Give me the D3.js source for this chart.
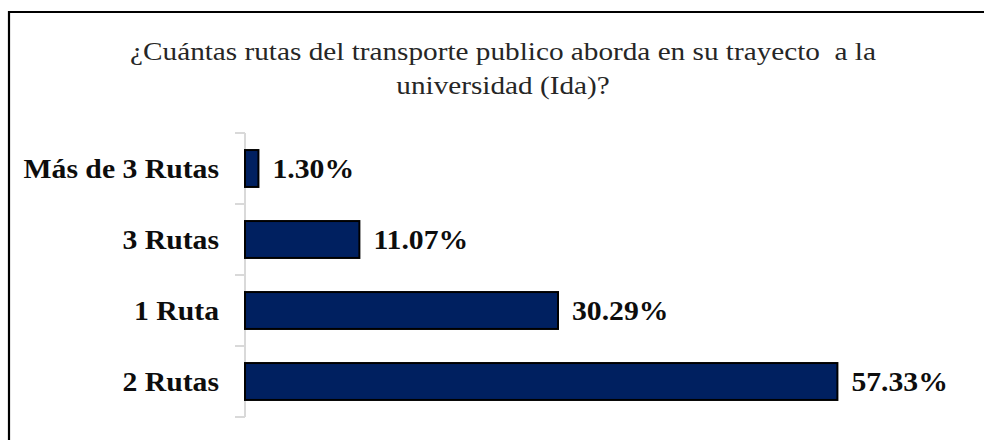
<!DOCTYPE html>
<html>
<head>
<meta charset="utf-8">
<script src="https://cdn.jsdelivr.net/npm/d3@7"></script>
<style>
  html, body { margin: 0; padding: 0; background: #fff; }
  svg { display: block; }
</style>
</head>
<body>
<svg id="chart"></svg>
<script>
// datos (de arriba hacia abajo)
const categories = ["Más de 3 Rutas", "3 Rutas", "1 Ruta", "2 Rutas"];
const values = [1.30, 11.07, 30.29, 57.33];
const titleLines = [
    "¿Cuántas rutas del transporte publico aborda en su trayecto\u00a0 a la",
    "universidad (Ida)?"
];

const width = 984;
const height = 440;
const stretch = 1.1;       // el texto original aparece algo ensanchado
const titleStretch = 1.17;

const svg = d3.select("#chart")
    .attr("width", width)
    .attr("height", height);

// marco del gráfico
svg.append("path")
    .attr("d", `M9,${height + 5} V12 H${width + 5}`)
    .attr("fill", "none")
    .attr("stroke", "#000")
    .attr("stroke-width", 2.2);

// título
svg.append("g")
    .attr("transform", `translate(503,0) scale(${titleStretch},1)`)
    .selectAll("text")
    .data(titleLines)
    .enter()
    .append("text")
    .attr("x", 0)
    .attr("y", (d, i) => 60 + i * 34)
    .attr("text-anchor", "middle")
    .style("font-family", "Liberation Serif")
    .style("font-size", "25px")
    .style("fill", "#262626")
    .text(d => d);

// escalas
const x = d3.scaleLinear()
    .domain([0, 60])
    .range([245, 865]);

const y = d3.scaleBand()
    .domain(categories)
    .range([133, 417])
    .paddingInner(0.48)
    .paddingOuter(0.24);

// eje vertical (gris claro, ticks en los límites de cada categoría)
const axisG = svg.append("g").attr("class", "y-axis");
axisG.append("line")
    .attr("x1", x(0)).attr("x2", x(0))
    .attr("y1", y.range()[0]).attr("y2", y.range()[1])
    .attr("stroke", "#d9d9d9")
    .attr("stroke-width", 2);

const boundaries = categories.map(c => y(c) - y.step() * y.paddingInner() / 2);
boundaries.push(y.range()[1]);
boundaries[0] = y.range()[0];
axisG.selectAll("line.tick")
    .data(boundaries)
    .enter()
    .append("line")
    .attr("class", "tick")
    .attr("x1", x(0) - 10).attr("x2", x(0))
    .attr("y1", d => d).attr("y2", d => d)
    .attr("stroke", "#d9d9d9")
    .attr("stroke-width", 2);

// etiquetas de categoría
svg.append("g")
    .selectAll("text")
    .data(categories)
    .enter()
    .append("text")
    .attr("transform", d => `translate(${x(0) - 26},${y(d) + y.bandwidth() / 2}) scale(${stretch},1)`)
    .attr("dy", "0.35em")
    .attr("text-anchor", "end")
    .style("font-family", "Liberation Serif")
    .style("font-size", "27px")
    .style("font-weight", "bold")
    .style("fill", "#0d0d0d")
    .text(d => d);

// barras
svg.append("g")
    .selectAll("rect")
    .data(values)
    .enter()
    .append("rect")
    .attr("x", x(0))
    .attr("y", (d, i) => y(categories[i]))
    .attr("width", d => x(d) - x(0))
    .attr("height", y.bandwidth())
    .attr("fill", "#002060")
    .attr("stroke", "#000")
    .attr("stroke-width", 2);

// etiquetas de valor
svg.append("g")
    .selectAll("text")
    .data(values)
    .enter()
    .append("text")
    .attr("transform", (d, i) => `translate(${x(d) + 14},${y(categories[i]) + y.bandwidth() / 2}) scale(${stretch},1)`)
    .attr("dy", "0.35em")
    .style("font-family", "Liberation Serif")
    .style("font-size", "27px")
    .style("font-weight", "bold")
    .style("fill", "#0d0d0d")
    .text(d => d.toFixed(2) + "%");
</script>
</body>
</html>
